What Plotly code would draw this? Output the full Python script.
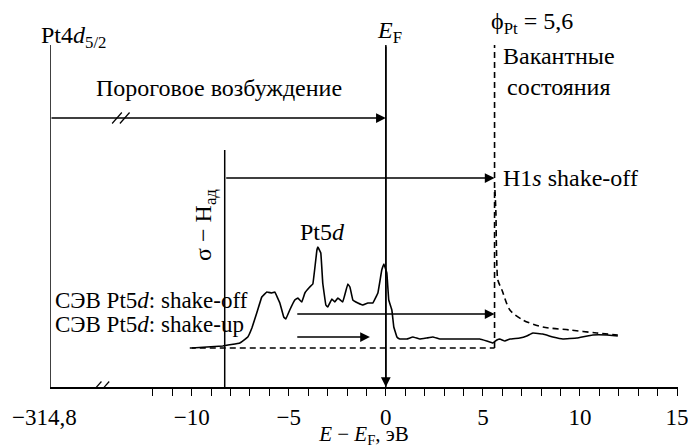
import plotly.graph_objects as go

# ---------------- data ----------------
spec_x = [-9.99, -9.22, -8.40, -7.52, -7.11, -6.90, -6.65, -6.39, -6.13, -5.87, -5.72,
          -5.46, -5.26, -5.15, -4.95, -4.69, -4.53, -4.33, -4.17, -3.92, -3.76, -3.55,
          -3.50, -3.35, -3.25, -3.09, -2.99, -2.78, -2.63, -2.47, -2.22, -1.96, -1.85,
          -1.70, -1.44, -1.18, -0.93, -0.67, -0.41, -0.21, -0.10, 0.05, 0.15, 0.31,
          0.41, 0.57, 0.72, 1.08, 1.39, 1.75, 2.11, 2.42, 2.78, 3.45, 4.33, 4.84,
          5.20, 5.51, 5.72, 5.87, 6.13, 6.39, 6.90, 7.26, 7.57, 8.09, 8.60, 9.12,
          9.84, 10.66, 11.39, 11.95]
spec_y = [3.9, 4.0, 4.1, 4.4, 5.0, 5.9, 7.4, 9.0, 9.5, 9.4, 9.5,
          8.4, 7.0, 6.8, 7.7, 8.7, 8.9, 8.5, 9.4, 10.0, 10.3, 13.7,
          14.0, 13.4, 10.4, 8.2, 8.0, 8.8, 8.5, 8.9, 8.5, 10.3, 10.0,
          8.7, 8.4, 8.2, 8.4, 8.4, 9.4, 11.7, 12.3, 11.4, 8.7, 7.7,
          6.0, 5.0, 4.8, 4.8, 5.0, 4.8, 4.9, 5.0, 4.8, 4.8, 4.8, 4.8,
          4.6, 4.4, 4.7, 4.8, 4.6, 4.8, 4.9, 5.1, 5.4, 5.3, 5.0, 4.8,
          4.9, 5.2, 5.2, 5.1]

vac_x = [5.62, 5.67, 5.69, 5.72, 5.77, 5.98, 6.39, 7.06, 8.09, 9.48, 10.87, 11.95]
vac_y = [19.7, 17.4, 14.7, 12.2, 10.7, 9.7, 7.7, 6.7, 6.0, 5.7, 5.4, 5.2]

break_pos = -17.3
pt4d_label = "−314,8"
sigma_x = -8.3
phi_pt = 5.6
base_level = 3.9
top_level = 34.2
sigma_top = 23.7

thr_arrow = (break_pos, 0.0, 26.9)
h1s_arrow = (sigma_x, phi_pt, 20.9)
off_arrow = (-4.64, phi_pt, 7.3)
up_arrow = (-4.64, -0.82, 5.0)

tick_vals = list(range(-12, 16))
tick_text = [("−" + str(-v) if v < 0 else str(v)) if v % 5 == 0 else "" for v in tick_vals]

FONT = "Liberation Serif"
FS = 24

fig = go.Figure()
fig.add_trace(go.Scatter(x=spec_x, y=spec_y, mode="lines", line=dict(color="black", width=1.6, shape="spline", smoothing=0.15),
                         hoverinfo="skip", showlegend=False))
fig.add_trace(go.Scatter(x=vac_x, y=vac_y, mode="lines", line=dict(color="black", width=1.6, dash="6px,4px", shape="spline", smoothing=0.8),
                         hoverinfo="skip", showlegend=False))

shapes = []
L = dict(color="black", width=1.5)
shapes.append(dict(type="line", x0=break_pos, x1=break_pos, y0=0, y1=top_level, line=L))
shapes.append(dict(type="line", x0=0, x1=0, y0=0, y1=top_level, line=L))
shapes.append(dict(type="line", x0=sigma_x, x1=sigma_x, y0=0, y1=sigma_top, line=L))
shapes.append(dict(type="line", x0=phi_pt, x1=phi_pt, y0=base_level, y1=top_level, line=dict(color="black", width=1.6, dash="6px,4px")))
shapes.append(dict(type="line", x0=-10.1, x1=phi_pt, y0=base_level, y1=base_level, line=dict(color="black", width=1.4, dash="6px,4px")))
for bx, by in [(-14.7, 0.0), (-13.65, thr_arrow[2])]:
    for off in (-0.2, 0.2):
        shapes.append(dict(type="line", x0=bx + off - 0.25, x1=bx + off + 0.25, y0=by - 0.55, y1=by + 0.55,
                           line=dict(color="black", width=1.2)))

ann = []
def arrow(x0, x1, y0, y1):
    ann.append(dict(x=x1, y=y1, ax=x0, ay=y0, xref="x", yref="y", axref="x", ayref="y", text="",
                    showarrow=True, arrowhead=2, arrowsize=1.3, arrowwidth=1.5, arrowcolor="black"))

arrow(thr_arrow[0], thr_arrow[1], thr_arrow[2], thr_arrow[2])
arrow(h1s_arrow[0], h1s_arrow[1], h1s_arrow[2], h1s_arrow[2])
arrow(off_arrow[0], off_arrow[1], off_arrow[2], off_arrow[2])
arrow(up_arrow[0], up_arrow[1], up_arrow[2], up_arrow[2])
arrow(0, 0, top_level, 0)

def txt(x, y, s, xa="center", ya="middle", angle=0, xref="x", yref="y", size=FS):
    ann.append(dict(x=x, y=y, xref=xref, yref=yref, text=s, showarrow=False, xanchor=xa, yanchor=ya,
                    textangle=angle, font=dict(family=FONT, size=size, color="black")))

txt(-0.018, 0.955, "Pt4<i>d</i><sub>5/2</sub>", xa="left", xref="paper", yref="paper")
txt(0.2, 35.5, "<i>E</i><sub>F</sub>")
txt(5.3, 36.4, "ϕ<sub>Pt</sub> = 5,6", xa="left")
txt(5.95, 31.6, "Вакантные<br>состояния", xa="left")
txt(-8.6, 29.9, "Пороговое возбуждение")
txt(5.95, 20.9, "H1<i>s</i> shake-off", xa="left")
txt(-9.32, 16.2, "σ − H<sub>ад</sub>", angle=-90)
txt(-3.25, 15.5, "Pt5<i>d</i>")
txt(-17.15, 8.7, "СЭВ Pt5<i>d</i>: shake-off", xa="left", size=23)
txt(-17.15, 6.25, "СЭВ Pt5<i>d</i>: shake-up", xa="left", size=23)
txt(-0.008, -0.082, pt4d_label, xref="paper", yref="paper", size=23)

fig.update_layout(
    width=688, height=448, margin=dict(l=50, r=10, t=20, b=61),
    paper_bgcolor="white", plot_bgcolor="white",
    font=dict(family=FONT, size=FS, color="black"),
    shapes=shapes, annotations=ann,
    xaxis=dict(range=[-17.3, 15.05], showgrid=False, zeroline=False, showline=True, linecolor="black", linewidth=1.5,
               ticks="outside", ticklen=7, tickwidth=1.2, tickcolor="black", automargin=False,
               tickvals=tick_vals, ticktext=tick_text, ticklabelstandoff=2, ticklabeloverflow="allow",
               tickfont=dict(family=FONT, size=23, color="black"),
               title=dict(text="<i>E</i> − <i>E</i><sub>F</sub>, эВ", font=dict(family=FONT, size=21, color="black"), standoff=2)),
    yaxis=dict(range=[0, 36.7], visible=False, automargin=False),
)
fig.write_html("out.html")
